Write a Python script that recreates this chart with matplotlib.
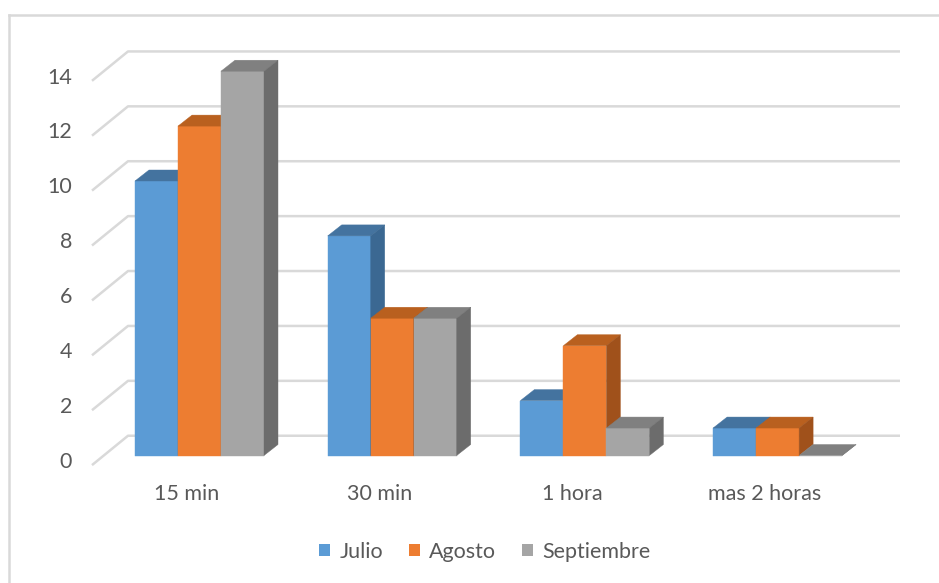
import matplotlib
matplotlib.use("Agg")
import matplotlib.pyplot as plt
from matplotlib.patches import Polygon, Patch
from matplotlib.lines import Line2D

categories = ["15 min", "30 min", "1 hora", "mas 2 horas"]
series_names = ["Julio", "Agosto", "Septiembre"]
julio = [10, 8, 2, 1]
agosto = [12, 5, 4, 1]
septiembre = [14, 5, 1, 0]
yticks = [0, 2, 4, 6, 8, 10, 12, 14]

values = [julio, agosto, septiembre]
front_colors = ["#5B9BD5", "#ED7D31", "#A5A5A5"]
top_colors = ["#44739F", "#B9601F", "#808080"]
side_colors = ["#3B6892", "#A0511B", "#6C6C6C"]
text_color = "#595959"
grid_color = "#D9D9D9"
FS = 15.5

W, H = 939, 583
fig = plt.figure(figsize=(W / 100, H / 100), dpi=100)
ax = fig.add_axes([0, 0, 1, 1])

# geometry (pixel-derived scales)
px_y = 27.45          # pixels per value unit
px_x = 192.7          # pixels per category
y0_px = 455.5         # value 0 at bar front (from top)
x0_px = 199.5         # first group centre
ax.set_ylim(-(H - y0_px) / px_y, y0_px / px_y)
ax.set_xlim(-x0_px / px_x, (W - x0_px) / px_x)
ax.axis("off")

bw = 43 / px_x
ddx = 14 / px_x
ddy = 11 / px_y

# back wall gridlines
yf = -0.35
yb = 0.72
xf = (92 - x0_px) / px_x
xb = (128 - x0_px) / px_x
xe = (900 - x0_px) / px_x
for v in yticks:
    ax.plot([xf, xb, xe], [v + yf, v + yb, v + yb], color=grid_color, lw=1.8,
            zorder=1, solid_capstyle="butt")
    ax.text((72 - x0_px) / px_x, v + yf + 0.12, str(v), ha="right", va="center",
            fontsize=FS, color=text_color, family="Lato")

# bars
for gi in range(len(categories)):
    for si in range(len(series_names)):
        v = values[si][gi]
        xc = gi + (si - 1) * bw
        xl, xr = xc - bw / 2, xc + bw / 2
        z = 3 + si * 3
        ax.bar(xc, v, width=bw, color=front_colors[si], edgecolor=front_colors[si],
               lw=0.3, zorder=z)
        top = Polygon([(xl, v), (xr, v), (xr + ddx, v + ddy), (xl + ddx, v + ddy)],
                      closed=True, facecolor=top_colors[si], edgecolor=top_colors[si],
                      lw=0.3, zorder=z + 1)
        ax.add_patch(top)
        side = Polygon([(xr, 0), (xr + ddx, ddy), (xr + ddx, v + ddy), (xr, v)],
                       closed=True, facecolor=side_colors[si], edgecolor=side_colors[si],
                       lw=0.3, zorder=z + 1)
        ax.add_patch(side)

# category labels
for gi, c in enumerate(categories):
    ax.text(gi - 0.065, -1.42, c, ha="center", va="center", fontsize=FS,
            color=text_color, family="Lato")

# frame
fig.add_artist(Line2D([9 / W, 9 / W], [0, 1 - 15 / H], color=grid_color, lw=1.8,
                      transform=fig.transFigure))
fig.add_artist(Line2D([9 / W, 1], [1 - 15 / H, 1 - 15 / H], color=grid_color, lw=1.8,
                      transform=fig.transFigure))

handles = [Patch(facecolor=front_colors[i], edgecolor="none", label=series_names[i])
           for i in range(3)]
leg = fig.legend(handles=handles, loc="center", bbox_to_anchor=(485 / W, 1 - 552 / H),
                 ncol=3, frameon=False, handlelength=0.5, handleheight=0.5,
                 handletextpad=0.45, columnspacing=1.2,
                 prop={"family": "Lato", "size": FS})
for t in leg.get_texts():
    t.set_color(text_color)

fig.savefig("out.png", dpi=100, facecolor="white")
